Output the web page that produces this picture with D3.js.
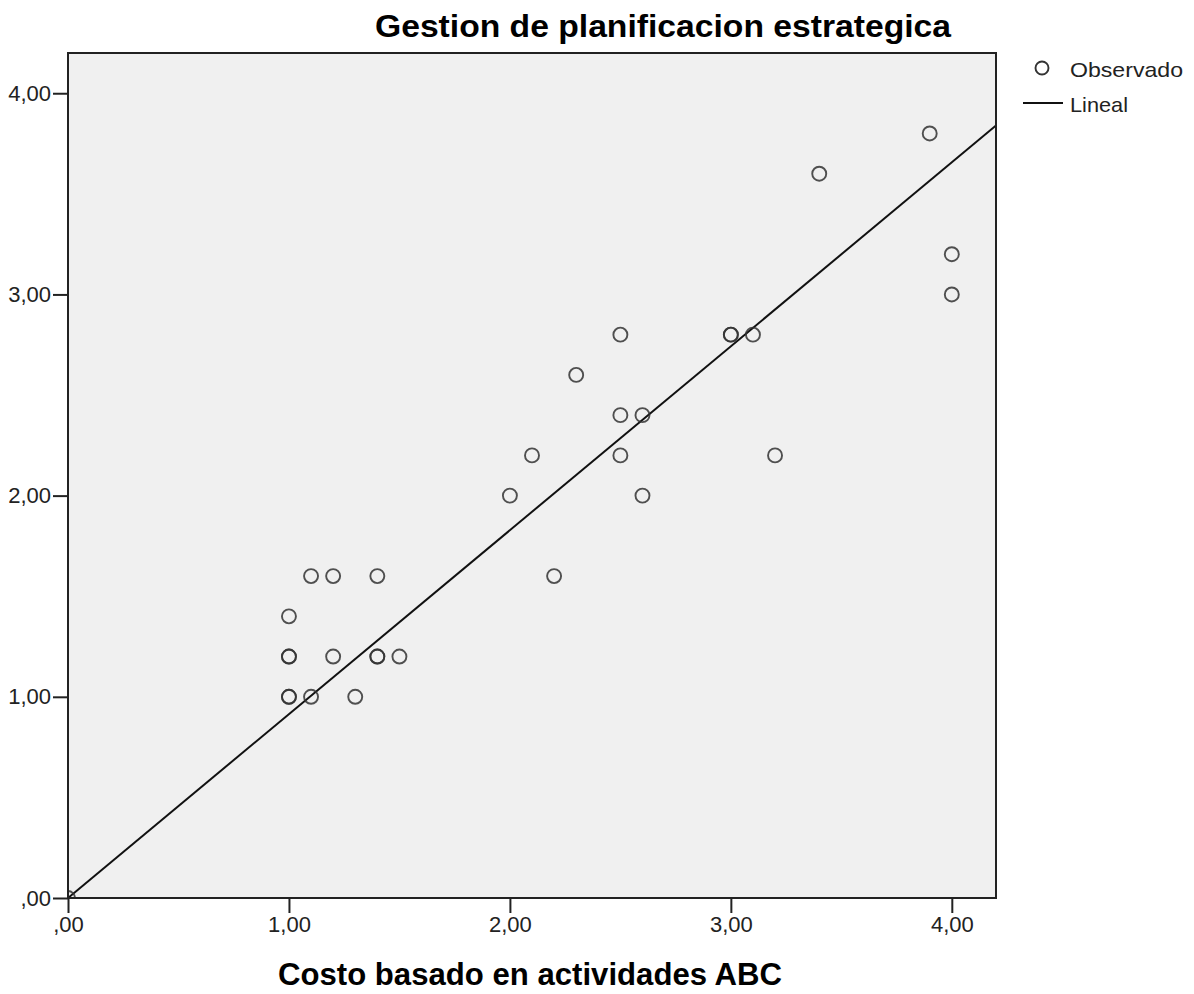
<!DOCTYPE html>
<html><head><meta charset="utf-8">
<script src="https://cdn.jsdelivr.net/npm/d3@7"></script>
<style>body{margin:0;background:#fff;} svg{display:block;}</style>
</head><body>
<script>
const title = "Gestion de planificacion estrategica";
const xLabel = "Costo basado en actividades ABC";
const legendLabels = ["Observado", "Lineal"];
const tickValues = [0, 1, 2, 3, 4];
const tickLabels = [",00", "1,00", "2,00", "3,00", "4,00"];
const xValues = [0, 1, 1, 1, 1, 1, 1.1, 1.1, 1.2, 1.2, 1.3, 1.4, 1.4, 1.4, 1.5, 2.0, 2.1, 2.2, 2.3, 2.5, 2.5, 2.5, 2.6, 2.6, 3.0, 3.0, 3.1, 3.2, 3.4, 3.9, 4.0, 4.0];
const yValues = [0, 1.4, 1.2, 1.2, 1.0, 1.0, 1.6, 1.0, 1.6, 1.2, 1.0, 1.6, 1.2, 1.2, 1.2, 2.0, 2.2, 1.6, 2.6, 2.8, 2.4, 2.2, 2.4, 2.0, 2.8, 2.8, 2.8, 2.2, 3.6, 3.8, 3.2, 3.0];

const W = 1194, H = 994;
const L = 68, R = 996, T = 53, B = 898;
const svg = d3.select("body").append("svg").attr("width", W).attr("height", H)
  .style("font-family", "'Liberation Sans', Arial, sans-serif");

const x = d3.scaleLinear().domain([0, 4.2]).range([L, R]);
const y = d3.scaleLinear().domain([0, 4.2]).range([B, T]);

svg.append("rect").attr("x", L).attr("y", T).attr("width", R - L).attr("height", B - T)
  .attr("fill", "#f0f0f0");

svg.append("clipPath").attr("id", "clip").append("rect")
  .attr("x", L).attr("y", T).attr("width", R - L).attr("height", B - T);

// linear fit through origin
let sxy = 0, sxx = 0;
xValues.forEach((v, i) => { sxy += v * yValues[i]; sxx += v * v; });
const slope = sxy / sxx;
const lineData = [[0, 0], [4.2, 4.2 * slope]];
svg.append("path").attr("clip-path", "url(#clip)")
  .attr("d", d3.line().x(d => x(d[0])).y(d => y(d[1]))(lineData))
  .attr("stroke", "#111").attr("stroke-width", 2).attr("fill", "none");

svg.append("g").attr("clip-path", "url(#clip)").selectAll("circle")
  .data(xValues.map((v, i) => [v, yValues[i]]))
  .join("circle")
  .attr("cx", d => x(d[0])).attr("cy", d => y(d[1])).attr("r", 7)
  .attr("fill", "none").attr("stroke", "#333").attr("stroke-width", 1.9)
  .attr("stroke-opacity", 0.85);

svg.append("rect").attr("x", L).attr("y", T).attr("width", R - L).attr("height", B - T)
  .attr("fill", "none").attr("stroke", "#222").attr("stroke-width", 2);

const yAxis = d3.axisLeft(y).tickValues(tickValues).tickFormat((d, i) => tickLabels[i])
  .tickSizeInner(15).tickSizeOuter(0).tickPadding(2);
const gy = svg.append("g").attr("transform", `translate(${L},0)`).call(yAxis);
gy.select(".domain").remove();
gy.selectAll("line").attr("stroke", "#222").attr("stroke-width", 2);
gy.selectAll("text").attr("font-size", 22).attr("fill", "#222")
  .attr("font-family", "'Liberation Sans', Arial, sans-serif");

const xAxis = d3.axisBottom(x).tickValues(tickValues).tickFormat((d, i) => tickLabels[i])
  .tickSizeInner(15).tickSizeOuter(0).tickPadding(3);
const gx = svg.append("g").attr("transform", `translate(0,${B})`).call(xAxis);
gx.select(".domain").remove();
gx.selectAll("line").attr("stroke", "#222").attr("stroke-width", 2);
gx.selectAll("text").attr("font-size", 22).attr("fill", "#222")
  .attr("font-family", "'Liberation Sans', Arial, sans-serif");

svg.append("text").attr("x", 375).attr("y", 37).text(title)
  .attr("font-size", 31).attr("font-weight", "bold").attr("fill", "#000")
  .attr("textLength", 576).attr("lengthAdjust", "spacingAndGlyphs");

svg.append("text").attr("x", 278).attr("y", 985).text(xLabel)
  .attr("font-size", 31).attr("font-weight", "bold").attr("fill", "#000")
  .attr("textLength", 504).attr("lengthAdjust", "spacingAndGlyphs");

svg.append("circle").attr("cx", 1042).attr("cy", 68).attr("r", 6.5)
  .attr("fill", "none").attr("stroke", "#333").attr("stroke-width", 1.9);
svg.append("text").attr("x", 1070).attr("y", 77).text(legendLabels[0])
  .attr("font-size", 21).attr("fill", "#222")
  .attr("textLength", 113).attr("lengthAdjust", "spacingAndGlyphs");
svg.append("line").attr("x1", 1023).attr("x2", 1063).attr("y1", 103).attr("y2", 103)
  .attr("stroke", "#111").attr("stroke-width", 2);
svg.append("text").attr("x", 1070).attr("y", 112).text(legendLabels[1])
  .attr("font-size", 21).attr("fill", "#222")
  .attr("textLength", 58).attr("lengthAdjust", "spacingAndGlyphs");
</script>
</body></html>
